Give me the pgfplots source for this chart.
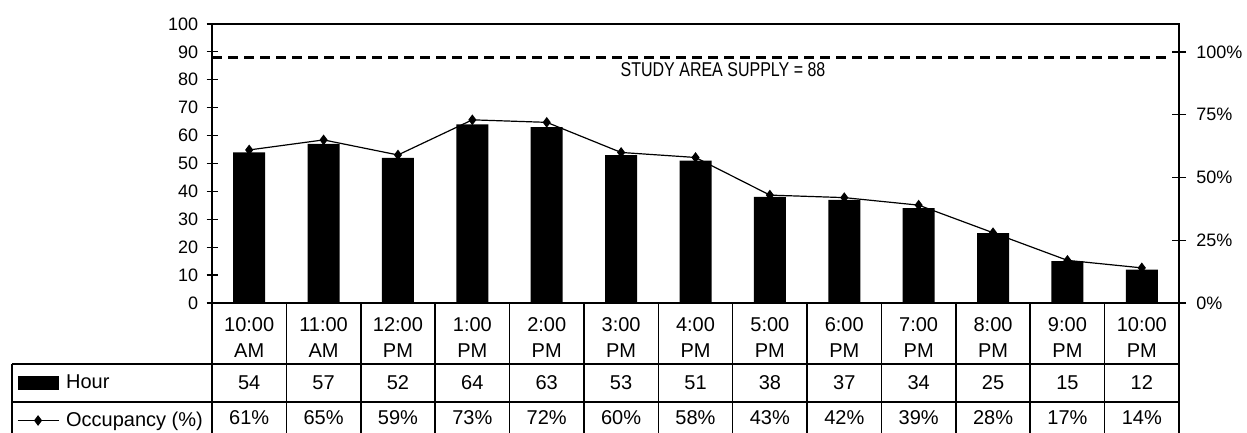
\documentclass[border=0pt]{standalone}
\usepackage{pgfplots}
\pgfplotsset{compat=1.18}
\usepackage{pgfplotstable}
\usepackage{fontspec}
\setmainfont{Liberation Sans}
\newfontfamily\narrowfont[FakeStretch=0.8]{Liberation Sans}

\pgfplotstableread{
x hour occ
0 54 61
1 57 65
2 52 59
3 64 73
4 63 72
5 53 60
6 51 58
7 38 43
8 37 42
9 34 39
10 25 28
11 15 17
12 12 14
}\data

\begin{document}
\begin{tikzpicture}
\useasboundingbox (0,0) rectangle (623.5pt,216.5pt);
\begin{axis}[
  at={(106pt,65pt)}, anchor=south west,
  scale only axis, width=483.5pt, height=139.5pt,
  xmin=-0.5, xmax=12.5, ymin=0, ymax=100,
  axis line style={line width=0.8pt},
  ytick={0,10,...,100},
  xtick={0,...,12},
  xticklabels={{10:00\\AM},{11:00\\AM},{12:00\\PM},{1:00\\PM},{2:00\\PM},{3:00\\PM},{4:00\\PM},{5:00\\PM},{6:00\\PM},{7:00\\PM},{8:00\\PM},{9:00\\PM},{10:00\\PM}},
  x tick style={draw=none},
  xticklabel style={align=center, font=\fontsize{10}{13}\selectfont, inner sep=0pt, yshift=-4.25pt},
  ytick pos=left, tick align=center, major tick length=5.5pt,
  y tick style={line width=0.6pt, black},
  yticklabel style={font=\fontsize{9}{10}\selectfont, inner sep=0pt, xshift=-4pt},
  /pgf/number format/assume math mode=true,
  clip=false,
  legend style={at={(axis cs:-3.122,-25.8)}, anchor=north west, draw=none, fill=none,
    inner sep=0pt, outer sep=0pt, font=\fontsize{10}{12}\selectfont, row sep=10pt,
    column sep=3.5pt, nodes={inner sep=0pt}},
  legend cell align=left,
]
\addplot[ybar, bar width=16pt, fill=black, draw=none,
  legend image code/.code={\fill[black] (0pt,-3.5pt) rectangle (20.5pt,3.5pt);}]
  table[x=x,y=hour]{\data};
\addlegendentry{Hour}
\addlegendimage{legend image code/.code={\draw[black,line width=0.6pt,mark=diamond*,mark size=2.2pt,mark repeat=2,mark phase=2] plot coordinates {(0pt,0pt) (10.25pt,0pt) (20.5pt,0pt)};}}
\addlegendentry{Occupancy (\%)}

\addplot[forget plot, black, line width=1.5pt, dash pattern=on 5pt off 3pt]
  coordinates {(-0.5,88) (12.4,88)};
\node[font=\narrowfont\fontsize{10}{12}\selectfont] at (axis cs:6.37,83.5) {STUDY AREA SUPPLY = 88};

\addplot[forget plot, draw=none, mark=none, nodes near coords, point meta=explicit,
  nodes near coords style={anchor=center, font=\fontsize{10}{12}\selectfont}]
  table[x=x, y expr=-28.67, meta=hour]{\data};
\addplot[forget plot, draw=none, mark=none, nodes near coords={\pgfmathprintnumber{\pgfplotspointmeta}\%}, point meta=explicit,
  nodes near coords style={anchor=center, font=\fontsize{10}{12}\selectfont}]
  table[x=x, y expr=-41.2, meta=occ]{\data};

\pgfplotsinvokeforeach{-0.5,0.5,...,12.5}{\draw[line width=0.8pt] (axis cs:#1,0) -- (axis cs:#1,-47);}
\draw[line width=0.8pt] (axis cs:-3.19,-21.86) -- (axis cs:12.5,-21.86);
\draw[line width=0.8pt] (axis cs:-3.19,-35.48) -- (axis cs:12.5,-35.48);
\draw[line width=0.8pt] (axis cs:-3.19,-21.86) -- (axis cs:-3.19,-47);
\end{axis}
\begin{axis}[
  at={(106pt,65pt)}, anchor=south west,
  scale only axis, width=483.5pt, height=139.5pt,
  xmin=-0.5, xmax=12.5, ymin=0, ymax=111.2,
  axis x line=none, axis y line*=right,
  axis line style={line width=0.8pt},
  ytick={0,25,50,75,100},
  yticklabel={\pgfmathprintnumber{\tick}\%},
  tick align=center, major tick length=7pt,
  y tick style={line width=0.6pt, black},
  yticklabel style={font=\fontsize{9}{10}\selectfont, inner sep=0pt, xshift=5pt},
  /pgf/number format/assume math mode=true,
  clip=false,
]
\addplot[black, line width=0.6pt, mark=diamond*, mark size=2.2pt] table[x=x,y=occ]{\data};
\end{axis}
\end{tikzpicture}
\end{document}
